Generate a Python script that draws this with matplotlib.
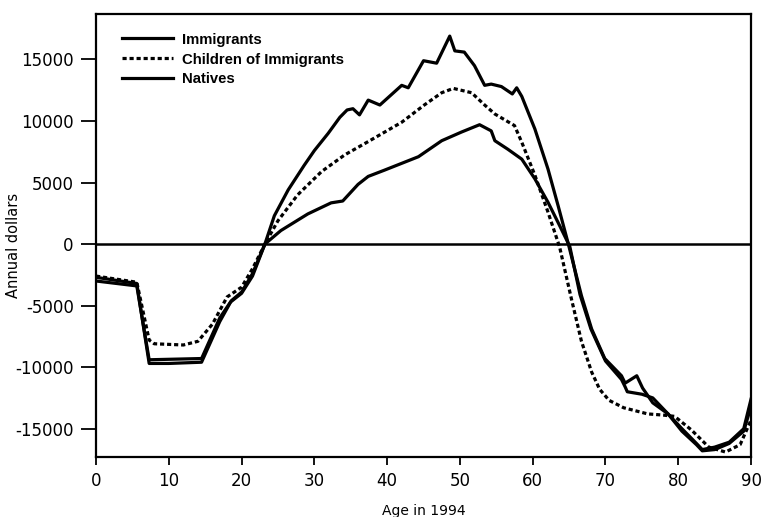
import matplotlib
matplotlib.use("Agg")
import matplotlib.pyplot as plt

# ---- data ----
imm_age = [0, 5.6, 7.3, 10, 14.5, 17, 18.5, 20, 21.5, 23.2, 24.5, 26.4, 28.6, 30,
           31.9, 33.5, 34.5, 35.3, 36.2, 37.4, 39, 42, 42.9, 45, 46.8, 48.6, 49.3,
           50.6, 52, 53.4, 54.3, 55.7, 57.2, 57.8, 58.5, 60.3, 62.1, 63.5, 64.9,
           66.7, 68.1, 69.9, 72.2, 72.7, 74.3, 75.1, 76.5, 78.6, 80.5, 82.5, 83.3,
           85, 87, 89, 90]
imm_val = [-2700, -3200, -9700, -9700, -9600, -6300, -4700, -4000, -2600, 0, 2300,
           4400, 6400, 7600, 9000, 10300, 10900, 11000, 10500, 11700, 11300, 12900,
           12700, 14900, 14700, 16900, 15700, 15600, 14500, 12900, 13000, 12800,
           12200, 12700, 12000, 9350, 6100, 3100, 0, -4200, -6900, -9300, -10700,
           -11300, -10700, -11700, -12900, -13800, -15000, -16200, -16700, -16500,
           -16100, -15000, -12600]

chi_age = [0, 5.6, 7.3, 8, 12, 14, 16, 18, 20, 21.5, 23.2, 25, 27.7, 31, 34.2, 37.4,
           42, 45.1, 47.5, 49.1, 51.6, 53.4, 54.8, 57.5, 58.5, 60.3, 62.1, 63.7,
           65.3, 66.7, 68.1, 69.2, 70.5, 72.5, 75.8, 78, 79.5, 81.8, 84.2, 86.5,
           88.5, 90]
chi_val = [-2600, -3100, -7800, -8100, -8200, -7900, -6500, -4300, -3500, -2000, 0,
           1900, 4000, 5900, 7260, 8330, 9900, 11300, 12300, 12650, 12300, 11300,
           10570, 9630, 8270, 5600, 2600, -240, -4400, -7900, -10400, -11800,
           -12700, -13300, -13800, -13900, -14000, -15100, -16500, -16900, -16300,
           -14300]

nat_age = [0, 5.6, 7.3, 14.5, 17, 18.6, 20, 21.5, 23.2, 25.4, 29.1, 32.3, 33.9, 36,
           37.4, 39.6, 44.3, 47.5, 50.2, 52.7, 54.3, 54.8, 56.6, 58.5, 60.3, 62.1,
           63.7, 65.1, 66.5, 68, 70, 72.2, 72.7, 73, 75, 76.5, 78.6, 80.5, 82.5,
           83.3, 85, 87, 89, 90]
nat_val = [-3000, -3400, -9400, -9300, -6000, -4600, -3900, -2400, 0, 1100, 2450,
           3350, 3500, 4850, 5500, 6000, 7100, 8400, 9100, 9700, 9200, 8400, 7700,
           6900, 5300, 3400, 1500, -200, -4100, -6900, -9500, -11000, -11600,
           -12000, -12200, -12500, -13800, -15200, -16300, -16800, -16700, -16200,
           -15200, -13200]

series_labels = ["Immigrants", "Children of Immigrants", "Natives"]
x_ticks = [0, 10, 20, 30, 40, 50, 60, 70, 80, 90]
y_ticks = [-15000, -10000, -5000, 0, 5000, 10000, 15000]

plt.rcParams['font.family'] = ['DejaVu Sans']
plt.rcParams['axes.unicode_minus'] = False

fig = plt.figure(figsize=(7.61, 5.17), dpi=100)
ax = fig.add_axes([0.1262, 0.1161, 0.8607, 0.8569])

lw = 2.3
ax.plot(imm_age, imm_val, color='black', lw=lw, label=series_labels[0])
ax.plot(chi_age, chi_val, color='black', lw=lw, linestyle=(0, (1.3, 0.9)),
        label=series_labels[1])
ax.plot(nat_age, nat_val, color='black', lw=lw, label=series_labels[2])
ax.axhline(0, color='black', lw=1.8)

ax.set_xlim(0, 90)
ax.set_ylim(-17300, 18700)
ax.set_xticks(x_ticks)
ax.set_yticks(y_ticks)
ax.tick_params(axis='x', direction='out', length=6, width=1.3, labelsize=12, pad=5)
ax.tick_params(axis='y', direction='out', length=11, width=1.3, labelsize=12, pad=5)
for s in ax.spines.values():
    s.set_linewidth(1.6)

ax.set_xlabel("Age in 1994", fontsize=10, labelpad=10)
ax.set_ylabel("Annual dollars", fontsize=10.5)
ax.yaxis.set_label_coords(-0.1145, 0.478)

leg = ax.legend(loc='upper left', bbox_to_anchor=(0.04, 0.958), borderaxespad=0,
                borderpad=0, frameon=False, handlelength=3.4, handletextpad=0.65,
                labelspacing=0.4,
                prop={'family': 'Liberation Sans', 'weight': 'bold', 'size': 10.7})

fig.savefig("out.png", dpi=100)
